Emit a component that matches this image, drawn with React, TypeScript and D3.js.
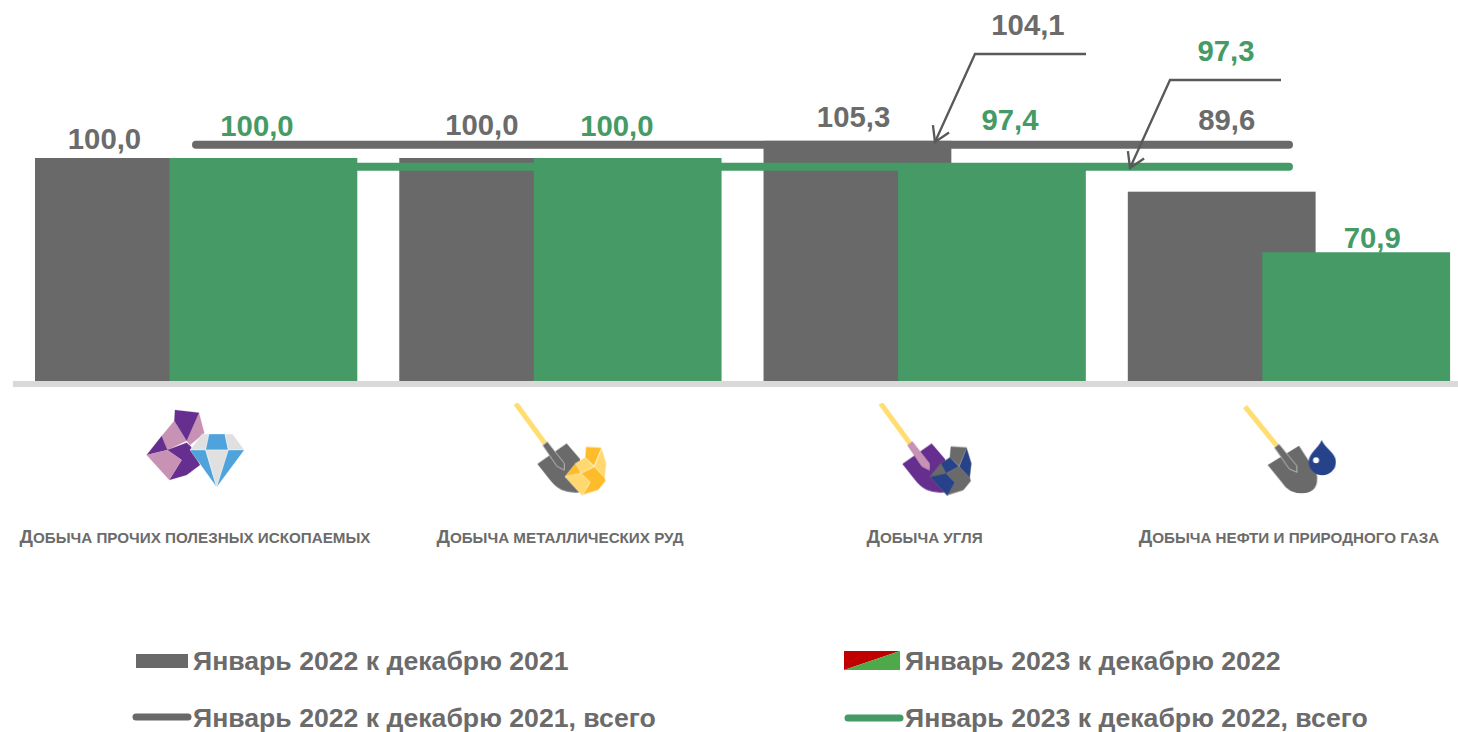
import React from "react";
import * as d3 from "d3";

const categories = [
  "Добыча прочих полезных ископаемых",
  "Добыча металлических руд",
  "Добыча угля",
  "Добыча нефти и природного газа",
];
const values2022 = [100.0, 100.0, 105.3, 89.6];
const values2023 = [100.0, 100.0, 97.4, 70.9];
const total2022 = 104.1;
const total2023 = 97.3;
const legendLabels = [
  "Январь 2022 к декабрю 2021",
  "Январь 2023 к декабрю 2022",
  "Январь 2022 к декабрю 2021, всего",
  "Январь 2023 к декабрю 2022, всего",
];

const GREY = "#696969";
const GREEN = "#459A66";
const TEXT = "#6B6B6B";
const FONT = "'Liberation Sans', Arial, sans-serif";

const fmt = (v: number) => v.toFixed(1).replace(".", ",");

const yMin = 31.15;
const x = d3.scaleBand<string>().domain(categories).range([35, 1450]).paddingInner(0.1155);
const y = d3.scaleLinear().domain([yMin, 100]).range([381, 158]);

const BAR_W = 187.8;
const GREEN_OFF = 134.5;
// label placement relative to the band start, and baseline
const greyLabelDx = [69.5, 82.6, 90, 99];
const greyLabelY = [148.5, 134.5, 126.5, 129.5];
const greenLabelDx = [222, 217.6, 246.5, 244.5];
const greenLabelY = [135.5, 135.5, 129.5, 247.5];
const catLabelX = [195, 560, 924.5, 1289];

function poly(pts: number[][], fill: string, stroke = "#fff", sw = 1.5) {
  return <polygon points={pts.map((p) => p.join(",")).join(" ")} fill={fill} stroke={stroke} strokeWidth={sw} strokeLinejoin="round" />;
}

function Gem() {
  const P = "#662F8E";
  const L = "#C892B4";
  const B = "#4FA3DC";
  const G = "#E0E0E0";
  return (
    <g transform="translate(135,400) scale(0.3333)">
      {poly([[192,38],[208,100],[165,135],[155,122]], L, L, 0.5)}
      {poly([[118,62],[155,122],[97,150],[80,108]], L, L, 0.5)}
      {poly([[120,30],[192,38],[155,122],[118,62]], P, P, 0.5)}
      {poly([[80,108],[97,150],[35,165]], P, P, 0.5)}
      {poly([[97,150],[155,128],[168,140],[195,195],[155,225],[103,240],[140,180]], P, P, 0.5)}
      {poly([[35,165],[97,150],[140,180],[103,240]], L, L, 0.5)}
      {poly([[165,150],[202,102],[222,102],[212,150]], G, "#fff", 1)}
      {poly([[222,102],[270,102],[280,150],[212,150]], B, "#fff", 1)}
      {poly([[270,102],[293,102],[328,150],[280,150]], G, "#fff", 1)}
      {poly([[165,150],[212,150],[245,262]], B, "#fff", 1)}
      {poly([[212,150],[280,150],[245,262]], G, "#fff", 1)}
      {poly([[280,150],[328,150],[245,262]], B, "#fff", 1)}
    </g>
  );
}

function Shovel({ blade, neck, neckStroke, oil }: { blade: string; neck: string; neckStroke: string; oil?: boolean }) {
  const bladeD = oil
    ? "M98,210 L192,152 L245,235 Q255,295 200,295 Q160,295 140,262 Z"
    : "M97,207 L185,145 L225,192 L240,290 Q200,298 170,285 Q150,275 135,255 Z";
  const e = oil ? [125, 152] : [120, 145];
  const s = oil ? [30, 35] : [32, 25];
  return (
    <g>
      <path d={bladeD} fill={blade} />
      <line x1={s[0]} y1={s[1]} x2={e[0]} y2={e[1]} stroke="#FFDD71" strokeWidth={15} />
      <polygon
        points={
          oil
            ? "118,158 132,147 185,212 186,232 163,222"
            : "113,151 127,140 178,205 178,225 156,214"
        }
        fill={neck}
        stroke={neckStroke}
        strokeWidth={2.5}
      />
    </g>
  );
}

function Rock({ dark, light, stroke }: { dark: string; light: string; stroke: string }) {
  return (
    <g>
      {poly([[243,155],[290,158],[267,213],[240,187]], dark, stroke)}
      {poly([[212,205],[240,187],[267,215],[228,235]], light, stroke)}
      {poly([[290,160],[304,205],[299,248],[268,215]], light, stroke)}
      {poly([[180,245],[212,205],[228,235]], dark, stroke)}
      {poly([[228,235],[268,215],[299,248],[302,258],[280,285],[232,300],[255,262]], dark, stroke)}
      {poly([[180,245],[228,235],[255,262],[232,302]], light, stroke)}
    </g>
  );
}

function Icons() {
  return (
    <g filter="url(#soft)">
      <Gem />
      <g transform="translate(505,395) scale(0.3333)">
        <Shovel blade="#6A6A6A" neck="#6A6A6A" neckStroke="#C8C8C8" />
        <Rock dark="#FFBC2B" light="#FFD970" stroke="#FFF3D0" />
      </g>
      <g transform="translate(870,395) scale(0.3333)">
        <Shovel blade="#662F8E" neck="#C892B4" neckStroke="#C892B4" />
        <Rock dark="#6A6A6A" light="#26428B" stroke="#6A6A6A" />
      </g>
      <g transform="translate(1235,395) scale(0.3333)">
        <Shovel blade="#6A6A6A" neck="#6A6A6A" neckStroke="#C8C8C8" oil />
        <path d="M260,135 C270,160 303,175 303,200 A41,41 0 0 1 221,200 C221,175 250,160 260,135 Z" fill="#26428B" />
        <circle cx={243} cy={196} r={9} fill="#fff" />
      </g>
    </g>
  );
}

function CatLabel({ text, cx }: { text: string; cx: number }) {
  return (
    <text x={cx} y={543} textAnchor="middle" fontFamily={FONT} fontWeight="bold" fill={TEXT} fontSize={15.2}>
      <tspan fontSize={18.9}>{text[0].toUpperCase()}</tspan>
      {text.slice(1).toUpperCase()}
    </text>
  );
}

function Callout({ pts, tip }: { pts: number[][]; tip: number[] }) {
  const line = d3.line();
  const [px, py] = pts[pts.length - 2];
  const a = Math.atan2(tip[1] - py, tip[0] - px);
  const L = 17;
  const w = 0.55;
  const h1 = [tip[0] - L * Math.cos(a - w), tip[1] - L * Math.sin(a - w)];
  const h2 = [tip[0] - L * Math.cos(a + w), tip[1] - L * Math.sin(a + w)];
  return (
    <g fill="none" stroke="#595959" strokeWidth={2.3}>
      <path d={line(pts as [number, number][]) ?? ""} />
      <path d={line([h1, tip, h2] as [number, number][]) ?? ""} />
    </g>
  );
}

export default function App() {
  const lineL = 196;
  const lineR = 1289;
  const numStyle = { fontFamily: FONT, fontWeight: "bold", fontSize: 29.3 } as const;
  const legStyle = { fontFamily: FONT, fontWeight: "bold", fontSize: 26.65, fill: TEXT } as const;
  return (
    <svg width={1458} height={732} style={{ position: "absolute", left: 0, top: 0, display: "block" }}>
      <defs>
        <filter id="soft" x="0" y="0" width="100%" height="100%">
          <feGaussianBlur stdDeviation="0.45" />
        </filter>
      </defs>
      <rect width={1458} height={732} fill="#fff" />
      <rect x={13} y={381} width={1445} height={6} fill="#D9D9D9" />
      {categories.map((c, i) => (
        <g key={c}>
          <rect x={x(c)} y={y(values2022[i])} width={BAR_W} height={y(yMin) - y(values2022[i])} fill={GREY} />
          <rect x={x(c)! + GREEN_OFF} y={y(values2023[i])} width={BAR_W} height={y(yMin) - y(values2023[i])} fill={GREEN} />
        </g>
      ))}
      <line x1={lineL} x2={lineR} y1={y(total2023)} y2={y(total2023)} stroke={GREEN} strokeWidth={8} strokeLinecap="round" />
      <line x1={lineL} x2={lineR} y1={y(total2022)} y2={y(total2022)} stroke={GREY} strokeWidth={8} strokeLinecap="round" />
      {categories.map((c, i) => (
        <g key={c} {...numStyle} textAnchor="middle">
          <text x={x(c)! + greyLabelDx[i]} y={greyLabelY[i]} fill={TEXT}>{fmt(values2022[i])}</text>
          <text x={x(c)! + greenLabelDx[i]} y={greenLabelY[i]} fill={GREEN}>{fmt(values2023[i])}</text>
        </g>
      ))}
      <Callout pts={[[1086, 54], [975, 54], [935, 142]]} tip={[935, 142]} />
      <Callout pts={[[1281, 80], [1170, 80], [1130, 168]]} tip={[1130, 168]} />
      <text x={1028} y={35} textAnchor="middle" {...numStyle} fill={TEXT}>{fmt(total2022)}</text>
      <text x={1226} y={61} textAnchor="middle" {...numStyle} fill={GREEN}>{fmt(total2023)}</text>
      <Icons />
      {categories.map((c, i) => (
        <CatLabel key={c} text={c} cx={catLabelX[i]} />
      ))}
      <rect x={136} y={654} width={52} height={14} fill={GREY} />
      <text x={193} y={670} {...legStyle}>{legendLabels[0]}</text>
      <polygon points="844,651 900,651 844,670" fill="#C00000" />
      <polygon points="900,651 900,670 844,670" fill="#4EA94B" />
      <text x={905} y={670} {...legStyle}>{legendLabels[1]}</text>
      <line x1={136} x2={188} y1={717} y2={717} stroke={GREY} strokeWidth={7} strokeLinecap="round" />
      <text x={193} y={726.5} {...legStyle}>{legendLabels[2]}</text>
      <line x1={848} x2={900} y1={718} y2={718} stroke={GREEN} strokeWidth={7} strokeLinecap="round" />
      <text x={905} y={726.5} {...legStyle}>{legendLabels[3]}</text>
    </svg>
  );
}
